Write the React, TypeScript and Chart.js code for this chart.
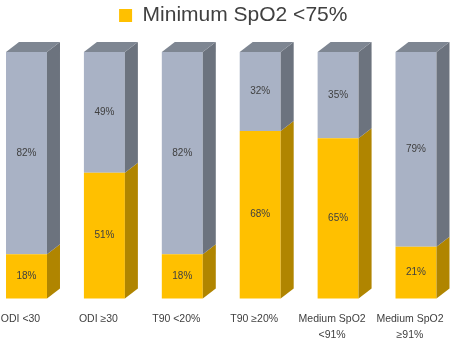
import React, { useEffect, useRef } from "react";
import { Chart, registerables } from "chart.js";

Chart.register(...registerables);

const categories: (string | string[])[] = [
  "ODI <30",
  "ODI ≥30",
  "T90 <20%",
  "T90 ≥20%",
  ["Medium SpO2", "<91%"],
  ["Medium SpO2", "≥91%"],
];
const minSpO2Below75 = [18, 51, 18, 68, 65, 21];
const remainder = [82, 49, 82, 32, 35, 79];
const legendLabel = "Minimum SpO2 <75%";

const YELLOW = "#FFC000";
const YELLOW_SIDE = "#B08500";
const GRAY = "#A9B2C5";
const GRAY_SIDE = "#6C737E";
const GRAY_TOP = "#7E8692";
const TEXT = "#404040";
const FONT = "'Liberation Sans', Arial, sans-serif";

const DX = 13;
const DY = 10;

const legendTweak = {
  id: "legendTweak",
  beforeLayout(chart: any) {
    const lg = chart.legend;
    if (!lg || lg.__patched) return;
    lg.__patched = true;
    const origFit = lg.fit;
    lg.fit = function (this: any) {
      origFit.call(this);
      this.height += 16;
    };
    const origDraw = lg.draw;
    lg.draw = function (this: any) {
      const ctx = this.ctx;
      ctx.save();
      ctx.translate(12, 0);
      origDraw.call(this);
      ctx.restore();
    };
  },
};

const bar3d = {
  id: "bar3d",
  afterDatasetsDraw(chart: any) {
    const ctx = chart.ctx;
    const n = chart.data.datasets.length;
    const sideColors = [YELLOW_SIDE, GRAY_SIDE];
    ctx.save();
    for (let di = 0; di < n; di++) {
      const meta = chart.getDatasetMeta(di);
      meta.data.forEach((el: any) => {
        const { x, y, base, width } = el.getProps(["x", "y", "base", "width"], true);
        const x0 = x - width / 2;
        const x1 = x + width / 2;
        ctx.beginPath();
        ctx.moveTo(x1, y);
        ctx.lineTo(x1 + DX, y - DY);
        ctx.lineTo(x1 + DX, base - DY);
        ctx.lineTo(x1, base);
        ctx.closePath();
        ctx.fillStyle = sideColors[di];
        ctx.fill();
        if (di === n - 1) {
          ctx.beginPath();
          ctx.moveTo(x0, y);
          ctx.lineTo(x0 + DX, y - DY);
          ctx.lineTo(x1 + DX, y - DY);
          ctx.lineTo(x1, y);
          ctx.closePath();
          ctx.fillStyle = GRAY_TOP;
          ctx.fill();
        }
      });
    }
    ctx.font = "10px " + FONT;
    ctx.fillStyle = TEXT;
    ctx.textAlign = "center";
    ctx.textBaseline = "middle";
    for (let di = 0; di < n; di++) {
      const meta = chart.getDatasetMeta(di);
      const values = chart.data.datasets[di].data;
      meta.data.forEach((el: any, i: number) => {
        const { x, y, base } = el.getProps(["x", "y", "base"], true);
        ctx.fillText(values[i] + "%", x, (y + base) / 2);
      });
    }
    ctx.restore();
  },
};

export default function App() {
  const ref = useRef<HTMLCanvasElement | null>(null);
  useEffect(() => {
    if (!ref.current) return;
    const chart = new Chart(ref.current, {
      type: "bar",
      data: {
        labels: categories,
        datasets: [
          {
            label: legendLabel,
            data: minSpO2Below75,
            backgroundColor: YELLOW,
            borderWidth: 0,
            clip: false as any,
          },
          {
            label: "Other",
            data: remainder,
            backgroundColor: GRAY,
            borderWidth: 0,
            clip: false as any,
          },
        ],
      },
      options: {
        animation: false,
        responsive: true,
        maintainAspectRatio: false,
        layout: { padding: { left: 26.5, right: 42, top: 0, bottom: 0 } },
        datasets: { bar: { barPercentage: 0.526, categoryPercentage: 1 } },
        plugins: {
          tooltip: { enabled: false },
          legend: {
            display: true,
            position: "top",
            labels: {
              filter: (item: any) => item.datasetIndex === 0,
              boxWidth: 13,
              boxHeight: 13,
              color: TEXT,
              font: { size: 21, family: FONT },
              padding: 5,
            },
          },
        },
        scales: {
          x: {
            stacked: true,
            offset: false,
            grid: { display: false, drawTicks: false },
            border: { display: false },
            afterFit: (scale: any) => {
              scale.paddingLeft = 0;
              scale.paddingRight = 0;
              scale.height -= 15;
            },
            ticks: {
              color: TEXT,
              autoSkip: false,
              maxRotation: 0,
              labelOffset: -6,
              padding: 13,
              font: { size: 10.5, family: FONT, lineHeight: 1.5 },
            },
          },
          y: {
            stacked: true,
            display: false,
            min: 0,
            max: 100,
          },
        },
      },
      plugins: [legendTweak, bar3d],
    });
    return () => chart.destroy();
  }, []);
  return (
    <div style={{ position: "fixed", left: 0, top: 0, width: 458, height: 341, background: "#fff" }}>
      <canvas ref={ref} />
    </div>
  );
}
